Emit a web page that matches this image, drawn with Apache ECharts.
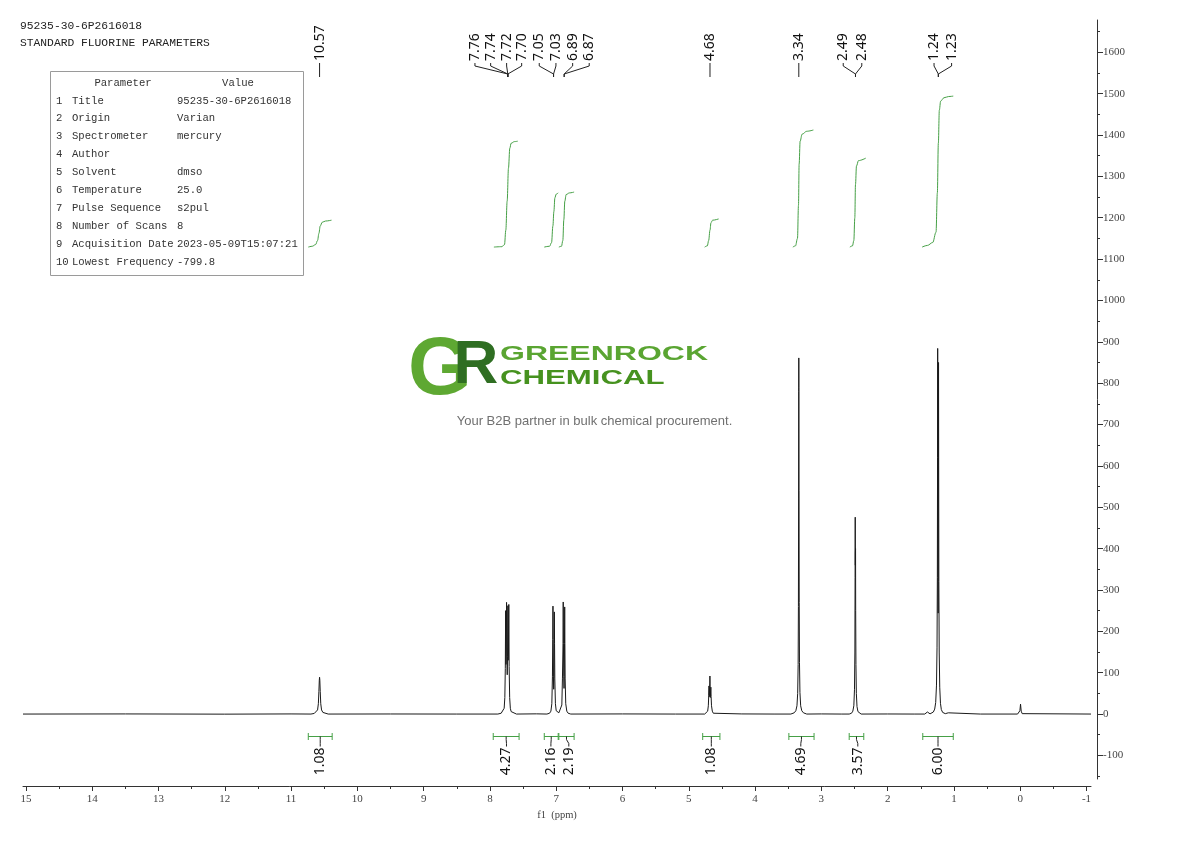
<!DOCTYPE html>
<html><head><meta charset="utf-8">
<script src="https://cdn.jsdelivr.net/npm/echarts@6/dist/echarts.min.js"></script>
<style>html,body{margin:0;padding:0;background:#fff}#c{width:1190px;height:841px}</style>
</head><body><div id="c"></div>
<script>
// ---------- DATA ----------
const spectrum = [
  [15.044,0],[13.5,0.3],[12.0,-0.2],[11.0,0.3],
  [10.70,0],[10.65,1.5],[10.62,4],[10.60,10],[10.588,25],[10.580,55],[10.574,82],[10.570,89],[10.566,82],[10.560,55],[10.552,25],[10.54,10],[10.52,4],[10.49,1.5],[10.44,0],
  [9.5,0.2],[8.5,0],
  [7.88,0],[7.83,2],[7.80,6],[7.785,14],[7.775,40],[7.768,110],[7.763,250],[7.758,120],[7.754,150],[7.749,270],[7.744,140],[7.739,95],[7.734,140],[7.729,262],[7.724,130],[7.720,150],[7.715,265],[7.710,115],[7.702,40],[7.692,14],[7.68,6],[7.65,2],[7.60,0],
  [7.30,0.5],
  [7.14,0],[7.10,2],[7.08,7],[7.066,25],[7.057,90],[7.052,180],[7.049,261],[7.046,180],[7.042,90],[7.038,60],[7.034,90],[7.031,170],[7.028,247],[7.025,170],[7.021,85],[7.012,25],[7.0,8],
  [6.985,4],[6.96,3],[6.93,6],[6.915,22],[6.906,85],[6.897,170],[6.894,271],[6.891,170],[6.886,90],[6.882,62],[6.878,90],[6.875,170],[6.872,259],[6.869,170],[6.865,85],[6.856,25],[6.84,7],[6.82,2],[6.78,0],
  [6.0,0.3],[5.2,0],
  [4.76,0],[4.73,2],[4.715,7],[4.705,20],[4.699,45],[4.695,68],[4.691,42],[4.687,40],[4.683,75],[4.681,92],[4.679,75],[4.675,40],[4.671,42],[4.667,65],[4.663,42],[4.657,20],[4.645,7],[4.63,2],[4.60,0],
  [4.2,0.3],[3.7,0],
  [3.46,0],[3.41,3],[3.385,8],[3.368,20],[3.357,50],[3.350,120],[3.346,260],[3.343,520],[3.341,780],[3.340,861],[3.339,790],[3.337,540],[3.334,270],[3.330,125],[3.323,52],[3.312,20],[3.295,8],[3.27,3],[3.22,0],
  [3.0,0.3],[2.7,0],
  [2.58,0],[2.545,2],[2.525,7],[2.510,20],[2.500,60],[2.494,150],[2.491,330],[2.489,476],[2.487,360],[2.486,390],[2.484,400],[2.482,250],[2.478,120],[2.472,50],[2.462,18],[2.448,6],[2.43,2],[2.40,0],
  [2.0,0.2],[1.6,0],
  [1.44,0],[1.41,2],[1.40,5],[1.39,2],[1.36,0.5],
  [1.34,1],[1.31,5],[1.29,12],[1.275,28],[1.263,70],[1.255,160],[1.250,330],[1.247,620],[1.245,884],[1.243,600],[1.240,300],[1.238,244],[1.236,320],[1.234,620],[1.232,850],[1.230,600],[1.227,320],[1.222,150],[1.214,65],[1.203,26],[1.19,11],[1.17,4],[1.13,1],
  [1.10,0.5],[1.085,3],[1.07,0.3],
  [0.6,0],[0.04,0],
  [0.02,2],[0.005,8],[-0.005,24],[-0.015,7],[-0.03,1],[-0.06,0],
  [-1.068,0]
];

const integralCurves = [
  [[10.74,1129],[10.68,1131],[10.63,1135],[10.60,1145],[10.58,1162],[10.56,1180],[10.53,1189],[10.48,1192],[10.39,1194]],
  [[7.94,1129],[7.82,1130],[7.78,1135],[7.76,1170],[7.74,1240],[7.72,1320],[7.70,1368],[7.68,1380],[7.63,1384],[7.58,1385]],
  [[7.18,1129],[7.10,1131],[7.07,1140],[7.05,1180],[7.035,1215],[7.02,1248],[7.0,1257],[6.97,1260]],
  [[6.96,1129],[6.92,1131],[6.90,1145],[6.885,1195],[6.87,1240],[6.85,1256],[6.80,1260],[6.73,1262]],
  [[4.76,1129],[4.72,1132],[4.70,1145],[4.68,1170],[4.665,1188],[4.64,1194],[4.55,1197]],
  [[3.43,1129],[3.39,1132],[3.36,1150],[3.345,1230],[3.335,1330],[3.32,1385],[3.29,1402],[3.22,1409],[3.12,1412]],
  [[2.57,1129],[2.53,1132],[2.51,1145],[2.495,1200],[2.485,1280],[2.47,1325],[2.44,1338],[2.33,1344]],
  [[1.48,1129],[1.40,1133],[1.32,1140],[1.27,1165],[1.25,1260],[1.235,1380],[1.22,1460],[1.20,1482],[1.15,1490],[1.08,1493],[1.01,1494]]
];

const peakLabelText   = ['10.57','7.76','7.74','7.72','7.70','7.05','7.03','6.89','6.87','4.68','3.34','2.49','2.48','1.24','1.23'];
const peakLabelSlot   = [10.57, 8.226, 7.989, 7.748, 7.521, 7.256, 7.004, 6.752, 6.502, 4.68, 3.34, 2.67, 2.39, 1.30, 1.035];
const peakLabelTarget = [10.57, 7.73, 7.73, 7.73, 7.73, 7.04, 7.04, 6.88, 6.88, 4.68, 3.34, 2.485, 2.485, 1.235, 1.235];

const integralValues   = ['1.08','4.27','2.16','2.19','1.08','4.69','3.57','6.00'];
const integralRanges   = [[10.74,10.38],[7.95,7.56],[7.18,6.97],[6.96,6.73],[4.79,4.53],[3.49,3.11],[2.58,2.36],[1.47,1.01]];
const integralLabelPos = [10.56, 7.75, 7.08, 6.81, 4.66, 3.31, 2.45, 1.24];

const xTicks = [15,14,13,12,11,10,9,8,7,6,5,4,3,2,1,0,-1];
const xMinorTicks = [14.5,13.5,12.5,11.5,10.5,9.5,8.5,7.5,6.5,5.5,4.5,3.5,2.5,1.5,0.5,-0.5];
const yTicks = [-100,0,100,200,300,400,500,600,700,800,900,1000,1100,1200,1300,1400,1500,1600];
const yMinorTicks = [-150,-50,50,150,250,350,450,550,650,750,850,950,1050,1150,1250,1350,1450,1550,1650];

const headerLines = ['95235-30-6P2616018','STANDARD FLUORINE PARAMETERS'];
const paramNames  = ['Title','Origin','Spectrometer','Author','Solvent','Temperature','Pulse Sequence','Number of Scans','Acquisition Date','Lowest Frequency'];
const paramValues = ['95235-30-6P2616018','Varian','mercury','','dmso','25.0','s2pul','8','2023-05-09T15:07:21','-799.8'];

// ---------- STYLE / LAYOUT ----------
const GREEN = '#46a046';
const AXIS_FONT = '"Liberation Serif", serif';
const MONO = '"Liberation Mono", monospace';
const LABEL_FONT = '"Noto Sans", sans-serif';

const chart = echarts.init(document.getElementById('c'), null, {renderer:'canvas', width:1190, height:841});

const graphics = [];
headerLines.forEach((t,i)=>graphics.push({type:'text', x:20, y:26+17*i, style:{text:t, font:'11.3px '+MONO, fill:'#222', align:'left', verticalAlign:'middle'}}));
graphics.push({type:'rect', shape:{x:50.5, y:71.5, width:253, height:204}, style:{fill:'#fff', stroke:'#9a9a9a', lineWidth:1}, z:5});
graphics.push({type:'text', x:123, y:83, z:6, style:{text:'Parameter', font:'10.6px '+MONO, fill:'#333', align:'center', verticalAlign:'middle'}});
graphics.push({type:'text', x:238, y:83, z:6, style:{text:'Value', font:'10.6px '+MONO, fill:'#333', align:'center', verticalAlign:'middle'}});
paramNames.forEach((n,i)=>{
  const y = 100.7 + 17.9*i;
  graphics.push({type:'text', x:56, y, z:6, style:{text:String(i+1), font:'10.6px '+MONO, fill:'#333', align:'left', verticalAlign:'middle'}});
  graphics.push({type:'text', x:72, y, z:6, style:{text:n, font:'10.6px '+MONO, fill:'#333', align:'left', verticalAlign:'middle'}});
  graphics.push({type:'text', x:177, y, z:6, style:{text:paramValues[i], font:'10.6px '+MONO, fill:'#333', align:'left', verticalAlign:'middle'}});
});
// logo watermark
graphics.push({type:'text', x:440, y:371, z:7, style:{text:'G', font:'bold 82px "Liberation Sans", sans-serif', fill:'#5ea832', align:'center', verticalAlign:'middle'}});
graphics.push({type:'text', x:476, y:366, z:8, style:{text:'R', font:'bold 62px "Liberation Sans", sans-serif', fill:'#2f6e22', align:'center', verticalAlign:'middle'}});
graphics.push({type:'text', x:500, y:354, scaleX:1.6, z:7, style:{text:'GREENROCK', font:'bold 20px "Liberation Sans", sans-serif', fill:'#5aa532', align:'left', verticalAlign:'middle'}});
graphics.push({type:'text', x:500, y:378, scaleX:1.56, z:7, style:{text:'CHEMICAL', font:'bold 20px "Liberation Sans", sans-serif', fill:'#46921f', align:'left', verticalAlign:'middle'}});
graphics.push({type:'text', x:594.5, y:421, z:7, style:{text:'Your B2B partner in bulk chemical procurement.', font:'13px "Liberation Sans", sans-serif', fill:'#707070', align:'center', verticalAlign:'middle'}});

const series = [];
series.push({type:'line', data:spectrum, symbol:'none', showSymbol:false, silent:true, z:3,
  lineStyle:{color:'#1a1a1a', width:1}});
integralCurves.forEach(c=>series.push({type:'line', data:c, symbol:'none', showSymbol:false, silent:true,
  smooth:0.35, smoothMonotone:'x', lineStyle:{color:GREEN, width:1}, z:2}));

series.push({type:'custom', silent:true, z:4,
  data: peakLabelText.map((t,i)=>[peakLabelSlot[i], peakLabelTarget[i], i]),
  encode:{x:[0,1], y:2},
  renderItem:(params, api)=>{
    const xs = api.coord([api.value(0),0])[0];
    const xt = api.coord([api.value(1),0])[0];
    const i = api.value(2);
    const top = params.coordSys.y;
    return {type:'group', children:[
      {type:'text', x:xs, y:top+41, rotation:Math.PI/2,
        style:{text:peakLabelText[i], x:0, y:0, align:'left', verticalAlign:'middle', font:'14px '+LABEL_FONT, fill:'#111'}},
      {type:'polyline', shape:{points:[[xs,top+43],[xs,top+46],[xt,top+54],[xt,top+57]]},
        style:{stroke:'#222', lineWidth:1, fill:null}}
    ]};
  }
});

series.push({type:'custom', silent:true, z:4,
  data: integralValues.map((t,i)=>[integralRanges[i][0], integralRanges[i][1], integralLabelPos[i], i]),
  encode:{x:[0,1,2], y:3},
  renderItem:(params, api)=>{
    const y0 = api.coord([0,0])[1];
    const by = Math.round(y0+22)+0.5;
    const x1 = api.coord([api.value(0),0])[0];
    const x2 = api.coord([api.value(1),0])[0];
    const xl = api.coord([api.value(2),0])[0];
    const xc = (x1+x2)/2;
    const i = api.value(3);
    return {type:'group', children:[
      {type:'line', shape:{x1:x1,y1:by,x2:x2,y2:by}, style:{stroke:GREEN, lineWidth:1}},
      {type:'line', shape:{x1:x1,y1:by-3.5,x2:x1,y2:by+3.5}, style:{stroke:GREEN, lineWidth:1}},
      {type:'line', shape:{x1:x2,y1:by-3.5,x2:x2,y2:by+3.5}, style:{stroke:GREEN, lineWidth:1}},
      {type:'polyline', shape:{points:[[xc,by],[xc,by+3],[xl,by+7],[xl,by+10]]}, style:{stroke:'#222', lineWidth:1, fill:null}},
      {type:'text', x:xl, y:by+11, rotation:Math.PI/2,
        style:{text:integralValues[i], x:0, y:0, align:'right', verticalAlign:'middle', font:'14px '+LABEL_FONT, fill:'#111'}}
    ]};
  }
});

const axisColor = '#333';
const plain = v => String(v);
chart.setOption({
  animation:false,
  backgroundColor:'#fff',
  grid:{left:23, right:99, top:20, bottom:62, outerBoundsMode:'none', containLabel:false},
  xAxis:[
    {type:'value', inverse:true, min:-1.068, max:15.044, position:'bottom', offset:7,
      axisLine:{show:true, onZero:false, lineStyle:{color:axisColor, width:1}},
      axisTick:{show:true, length:5, customValues:xTicks, lineStyle:{color:axisColor}},
      axisLabel:{show:true, customValues:xTicks, formatter:plain, margin:8, color:'#444', fontFamily:AXIS_FONT, fontSize:11},
      splitLine:{show:false},
      name:'f1  (ppm)', nameLocation:'middle', nameGap:24,
      nameTextStyle:{color:'#444', fontFamily:AXIS_FONT, fontSize:10.5}},
    {type:'value', inverse:true, min:-1.068, max:15.044, position:'bottom', offset:7,
      axisLine:{show:false, onZero:false}, axisTick:{show:true, length:3, customValues:xMinorTicks, lineStyle:{color:axisColor}},
      axisLabel:{show:false}, splitLine:{show:false}}
  ],
  yAxis:[
    {type:'value', min:-157, max:1678, position:'right', offset:6,
      axisLine:{show:true, onZero:false, lineStyle:{color:axisColor, width:1}},
      axisTick:{show:true, length:6, customValues:yTicks, lineStyle:{color:axisColor}},
      axisLabel:{show:true, customValues:yTicks, formatter:plain, margin:6, color:'#444', fontFamily:AXIS_FONT, fontSize:11},
      splitLine:{show:false}},
    {type:'value', min:-157, max:1678, position:'right', offset:6,
      axisLine:{show:false, onZero:false}, axisTick:{show:true, length:3, customValues:yMinorTicks, lineStyle:{color:axisColor}},
      axisLabel:{show:false}, splitLine:{show:false}}
  ],
  graphic: graphics,
  series: series
});
</script>
</body></html>
